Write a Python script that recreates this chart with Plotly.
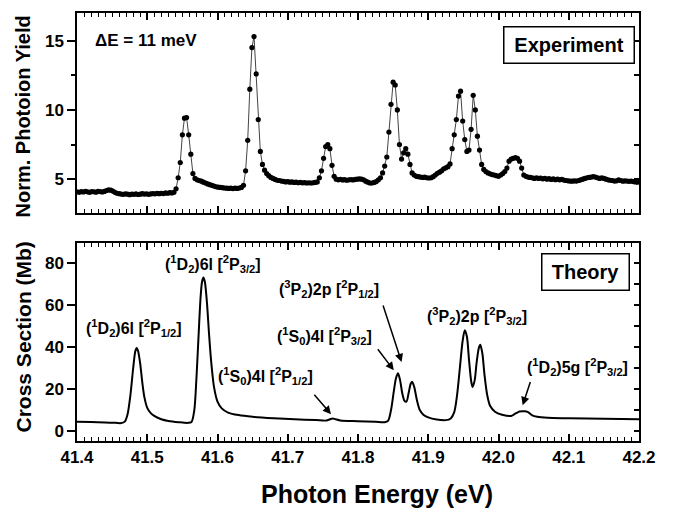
import plotly.graph_objects as go

# ---------------- data ----------------
exp_energy = [
    41.400, 41.403, 41.406, 41.409, 41.412, 41.415, 41.418, 41.421, 41.424, 41.427,
    41.430, 41.433, 41.436, 41.439, 41.442, 41.445, 41.448, 41.451, 41.454, 41.457,
    41.460, 41.463, 41.466, 41.469, 41.472, 41.475, 41.478, 41.481, 41.484, 41.487,
    41.490, 41.493, 41.496, 41.499, 41.502, 41.505, 41.508, 41.511, 41.514, 41.517,
    41.520, 41.523, 41.526, 41.529, 41.532, 41.535, 41.538, 41.541, 41.544, 41.547,
    41.550, 41.553, 41.556, 41.559, 41.562, 41.565, 41.568, 41.571, 41.574, 41.577,
    41.580, 41.583, 41.586, 41.589, 41.592, 41.595, 41.598, 41.601, 41.604, 41.607,
    41.610, 41.613, 41.616, 41.619, 41.622, 41.625, 41.628, 41.631, 41.634, 41.637,
    41.640, 41.643, 41.646, 41.649, 41.652, 41.655, 41.658, 41.661, 41.664, 41.667,
    41.670, 41.673, 41.676, 41.679, 41.682, 41.685, 41.688, 41.691, 41.694, 41.697,
    41.700, 41.703, 41.706, 41.709, 41.712, 41.715, 41.718, 41.721, 41.724, 41.727,
    41.730, 41.733, 41.736, 41.739, 41.742, 41.745, 41.748, 41.751, 41.754, 41.757,
    41.760, 41.763, 41.766, 41.769, 41.772, 41.775, 41.778, 41.781, 41.784, 41.787,
    41.790, 41.793, 41.796, 41.799, 41.802, 41.805, 41.808, 41.811, 41.814, 41.817,
    41.820, 41.823, 41.826, 41.829, 41.832, 41.835, 41.838, 41.841, 41.844, 41.847,
    41.850, 41.853, 41.856, 41.859, 41.862, 41.865, 41.868, 41.871, 41.874, 41.877,
    41.880, 41.883, 41.886, 41.889, 41.892, 41.895, 41.898, 41.901, 41.904, 41.907,
    41.910, 41.913, 41.916, 41.919, 41.922, 41.925, 41.928, 41.931, 41.934, 41.937,
    41.940, 41.943, 41.946, 41.949, 41.952, 41.955, 41.958, 41.961, 41.964, 41.967,
    41.970, 41.973, 41.976, 41.979, 41.982, 41.985, 41.988, 41.991, 41.994, 41.997,
    42.000, 42.003, 42.006, 42.009, 42.012, 42.015, 42.018, 42.021, 42.024, 42.027,
    42.030, 42.033, 42.036, 42.039, 42.042, 42.045, 42.048, 42.051, 42.054, 42.057,
    42.060, 42.063, 42.066, 42.069, 42.072, 42.075, 42.078, 42.081, 42.084, 42.087,
    42.090, 42.093, 42.096, 42.099, 42.102, 42.105, 42.108, 42.111, 42.114, 42.117,
    42.120, 42.123, 42.126, 42.129, 42.132, 42.135, 42.138, 42.141, 42.144, 42.147,
    42.150, 42.153, 42.156, 42.159, 42.162, 42.165, 42.168, 42.171, 42.174, 42.177,
    42.180, 42.183, 42.186, 42.189, 42.192, 42.195, 42.198,
]
exp_yield = [
    4.08, 4.05, 4.10, 4.07, 4.12, 4.08, 4.05, 4.10, 4.09, 4.06,
    4.12, 4.10, 4.07, 4.11, 4.18, 4.22, 4.20, 4.14, 4.05, 3.98,
    3.95, 3.92, 3.90, 3.94, 3.91, 3.88, 3.92, 3.90, 3.93, 3.89,
    3.91, 3.95, 3.92, 3.94, 3.90, 3.93, 3.96, 3.94, 3.97, 3.95,
    3.98, 3.96, 4.00, 3.98, 4.02, 4.00, 4.05, 4.30, 5.10, 6.20,
    8.20, 9.40, 9.45, 8.20, 6.80, 5.40, 5.05, 4.95, 4.90, 4.85,
    4.78, 4.72, 4.65, 4.60, 4.55, 4.50, 4.45, 4.42, 4.40, 4.38,
    4.36, 4.35, 4.33, 4.35, 4.32, 4.35, 4.33, 4.36, 4.40, 4.55,
    5.60, 7.80, 11.50, 14.50, 15.30, 12.60, 9.30, 7.00, 6.06, 5.65,
    5.40, 5.25, 5.12, 5.05, 4.98, 4.92, 4.90, 4.86, 4.84, 4.80,
    4.82, 4.78, 4.80, 4.76, 4.78, 4.74, 4.76, 4.73, 4.75, 4.72,
    4.74, 4.72, 4.74, 4.76, 4.80, 5.10, 5.60, 6.50, 7.35, 7.50,
    7.20, 6.00, 5.20, 5.00, 4.95, 4.98, 4.94, 4.96, 4.92, 4.95,
    4.97, 4.94, 4.98, 5.00, 5.02, 5.00, 4.95, 4.85, 4.78, 4.72,
    4.72, 4.76, 4.82, 4.95, 5.10, 5.45, 5.94, 6.60, 8.40, 10.40,
    12.00, 11.80, 10.00, 7.50, 6.45, 6.90, 7.20, 6.80, 6.06, 5.45,
    5.30, 5.20, 5.18, 5.15, 5.12, 5.14, 5.10, 5.08, 5.10, 5.18,
    5.30, 5.42, 5.50, 5.60, 5.75, 5.82, 5.90, 6.10, 7.20, 8.20,
    9.30, 11.00, 11.35, 9.20, 7.86, 7.00, 7.10, 8.60, 11.05, 10.00,
    8.10, 7.10, 6.06, 5.70, 5.55, 5.45, 5.38, 5.33, 5.30, 5.25,
    5.20, 5.30, 5.40, 5.55, 5.80, 6.30, 6.45, 6.50, 6.55, 6.50,
    6.30, 5.80, 5.30, 5.20, 5.15, 5.12, 5.10, 5.05, 5.10, 5.05,
    5.08, 5.02, 5.06, 5.00, 5.04, 4.98, 5.02, 4.96, 5.00, 4.95,
    4.98, 4.93, 4.90, 4.88, 4.86, 4.85, 4.88, 4.86, 4.90, 4.95,
    5.00, 5.05, 5.10, 5.12, 5.15, 5.18, 5.15, 5.10, 5.05, 5.10,
    5.05, 5.00, 4.95, 4.92, 4.90, 4.86, 4.88, 4.95, 4.90, 4.85,
    4.88, 4.86, 4.84, 4.86, 4.82, 4.80, 4.78,
]

theory_energy = [
    41.400, 41.420, 41.440, 41.455, 41.463, 41.468, 41.472, 41.476, 41.480, 41.483,
    41.485, 41.487, 41.490, 41.493, 41.496, 41.500, 41.505, 41.510, 41.520, 41.530,
    41.545, 41.558, 41.563, 41.567, 41.570, 41.573, 41.576, 41.578, 41.580, 41.582,
    41.585, 41.588, 41.591, 41.595, 41.600, 41.606, 41.615, 41.630, 41.650, 41.680,
    41.710, 41.740, 41.755, 41.760, 41.764, 41.768, 41.775, 41.800, 41.825, 41.838,
    41.843, 41.847, 41.851, 41.854, 41.857, 41.860, 41.863, 41.866, 41.869, 41.872,
    41.875, 41.877, 41.880, 41.884, 41.888, 41.893, 41.900, 41.912, 41.925, 41.932,
    41.937, 41.941, 41.945, 41.949, 41.952, 41.955, 41.958, 41.961, 41.963, 41.966,
    41.969, 41.972, 41.974, 41.977, 41.980, 41.984, 41.988, 41.995, 42.005, 42.018,
    42.025, 42.030, 42.037, 42.042, 42.048, 42.055, 42.070, 42.100, 42.150, 42.200,
]
theory_cs = [
    4.4, 4.3, 4.1, 3.9, 3.8, 4.5, 8, 17, 30, 38,
    39.5, 38, 32, 23, 16, 11, 8.5, 7.2, 5.6, 4.8,
    4.2, 3.9, 4.3, 10, 25, 45, 64, 71, 73, 71,
    61, 46, 33, 21, 14, 10.8, 8.8, 7.6, 6.8, 6.1,
    5.6, 5.2, 5.0, 5.6, 6.0, 5.6, 5.0, 4.7, 4.4, 4.2,
    5.0, 10, 19, 25, 27.5, 24, 18, 14.5, 14, 18,
    22.5, 23.5, 21, 14.5, 10, 7.8, 6.5, 5.5, 5.2, 6.0,
    9, 17, 30, 43, 48, 45, 34, 24, 21, 24,
    33, 39.5, 41, 37, 27, 17, 12, 9.2, 7.8, 7.2,
    8.5, 9.3, 9.4, 9.0, 7.5, 6.8, 6.3, 6.1, 5.8, 5.6,
]

x_tick0 = 41.4
x_major_step = 0.1
x_minor_step = 0.01
top_tickvals = [5, 10, 15]
top_minor = [7.5, 12.5]
top_right_ticks = [5, 7.5, 10, 12.5, 15]
bot_tickvals = [0, 20, 40, 60, 80]
bot_right_ticks = [0, 10, 20, 30, 40, 50, 60, 70, 80]

# peak labels: (text, energy, cross section)
labels = [
    ("(<sup>1</sup>D<sub>2</sub>)6l [<sup>2</sup>P<sub>1/2</sub>]", 41.481, 48.8),
    ("(<sup>1</sup>D<sub>2</sub>)6l [<sup>2</sup>P<sub>3/2</sub>]", 41.5936, 79.5),
    ("(<sup>3</sup>P<sub>2</sub>)2p [<sup>2</sup>P<sub>1/2</sub>]", 41.758, 67.7),
    ("(<sup>1</sup>S<sub>0</sub>)4l [<sup>2</sup>P<sub>3/2</sub>]", 41.7516, 45.4),
    ("(<sup>1</sup>S<sub>0</sub>)4l [<sup>2</sup>P<sub>1/2</sub>]", 41.669, 26.0),
    ("(<sup>3</sup>P<sub>2</sub>)2p [<sup>2</sup>P<sub>3/2</sub>]", 41.9687, 54.9),
    ("(<sup>1</sup>D<sub>2</sub>)5g [<sup>2</sup>P<sub>3/2</sub>]", 42.1125, 30.3),
]
# arrows: (head energy, head value, tail energy, tail value)
arrows = [
    (41.7616, 8.0, 41.736, 18.0),
    (41.851, 28.9, 41.8266, 39.6),
    (41.862, 32.8, 41.835, 60.4),
    (42.0344, 12.3, 42.046, 24.1),
]

FONT = "Liberation Sans, Arial, Helvetica, sans-serif"
BLACK = "#000000"

fig = go.Figure()
fig.add_trace(go.Scatter(
    x=theory_energy, y=theory_cs, xaxis="x", yaxis="y", mode="lines",
    line=dict(color=BLACK, width=2, shape="spline", smoothing=0.8),
    showlegend=False, hoverinfo="skip"))
fig.add_trace(go.Scatter(
    x=exp_energy, y=exp_yield, xaxis="x2", yaxis="y2", mode="lines+markers",
    line=dict(color="#444444", width=1),
    marker=dict(color=BLACK, size=5.2),
    showlegend=False, hoverinfo="skip"))
fig.add_trace(go.Scatter(x=[None], y=[None], xaxis="x", yaxis="y3",
                         showlegend=False, hoverinfo="skip"))
fig.add_trace(go.Scatter(x=[None], y=[None], xaxis="x2", yaxis="y4",
                         showlegend=False, hoverinfo="skip"))

tickfont = dict(family=FONT, size=17, color=BLACK, weight="bold")
xcommon = dict(
    range=[41.4, 42.2], tickmode="linear", tick0=x_tick0, dtick=x_major_step,
    tickformat=".1f",
    ticks="inside", ticklen=7, tickwidth=1.5, tickcolor=BLACK,
    showline=True, linewidth=1.5, linecolor=BLACK, mirror="ticks",
    showgrid=False, zeroline=False,
    minor=dict(tickmode="linear", tick0=x_tick0, dtick=x_minor_step, ticks="inside",
               ticklen=4, tickwidth=1, tickcolor=BLACK, showgrid=False),
)
ycommon = dict(showline=True, linewidth=1.5, linecolor=BLACK, showgrid=False,
               zeroline=False, tickcolor=BLACK, tickwidth=1.5, tickfont=tickfont)

TOP_DOM = [0.5326, 1.0]
BOT_DOM = [0.0, 0.4628]
TOP_RANGE = [2.55, 17.0]
BOT_RANGE = [-4.73, 89.5]

fig.update_layout(
    width=674, height=510,
    margin=dict(l=77, r=35, t=11, b=69),
    paper_bgcolor="white", plot_bgcolor="white",
    font=dict(family=FONT, color=BLACK),
    xaxis=dict(anchor="y", domain=[0, 1], tickfont=tickfont, **xcommon),
    xaxis2=dict(anchor="y2", domain=[0, 1], matches="x", showticklabels=False,
                **xcommon),
    yaxis=dict(anchor="x", domain=BOT_DOM, range=BOT_RANGE, tickmode="array",
               tickvals=bot_tickvals, ticks="outside", ticklen=8, **ycommon),
    yaxis2=dict(anchor="x2", domain=TOP_DOM, range=TOP_RANGE, tickmode="array",
                tickvals=top_tickvals, ticks="outside", ticklen=8,
                minor=dict(tickmode="array", tickvals=top_minor, ticks="outside",
                           ticklen=4, tickwidth=1.5, tickcolor=BLACK),
                **ycommon),
    yaxis3=dict(anchor="x", overlaying="y", side="right", range=BOT_RANGE,
                tickmode="array", tickvals=bot_right_ticks, ticks="inside",
                ticklen=5, showticklabels=False, **ycommon),
    yaxis4=dict(anchor="x2", overlaying="y2", side="right", range=TOP_RANGE,
                tickmode="array", tickvals=top_right_ticks, ticks="inside",
                ticklen=5, showticklabels=False, **ycommon),
)

ann = []
# axis titles
ann.append(dict(text="Norm. Photoion Yield", xref="paper", yref="paper",
                x=(23 - 77) / 562, y=(441 - 115) / 430, textangle=-90,
                showarrow=False,
                font=dict(family=FONT, size=20, color=BLACK, weight="bold"),
                xanchor="center", yanchor="middle"))
ann.append(dict(text="Cross Section (Mb)", xref="paper", yref="paper",
                x=(23 - 77) / 562, y=(441 - 337) / 430, textangle=-90,
                showarrow=False,
                font=dict(family=FONT, size=21, color=BLACK, weight="bold"),
                xanchor="center", yanchor="middle"))
ann.append(dict(text="Photon Energy (eV)", xref="paper", yref="paper",
                x=(377 - 77) / 562, y=(441 - 494) / 430,
                showarrow=False,
                font=dict(family=FONT, size=25, color=BLACK, weight="bold"),
                xanchor="center", yanchor="middle"))
# panel notes
ann.append(dict(text="\u0394E = 11 meV", xref="paper", yref="paper",
                x=(93 - 77) / 562, y=(441 - 39) / 430, showarrow=False,
                font=dict(family=FONT, size=17, color=BLACK, weight="bold"),
                xanchor="left", yanchor="middle"))
ann.append(dict(text="Experiment", xref="paper", yref="paper",
                x=(568.5 - 77) / 562, y=(441 - 43) / 430, showarrow=False,
                font=dict(family=FONT, size=20, color=BLACK, weight="bold"),
                bordercolor=BLACK, borderwidth=1.5, borderpad=2,
                width=125, height=31, xanchor="center", yanchor="middle"))
ann.append(dict(text="Theory", xref="paper", yref="paper",
                x=(585 - 77) / 562, y=(441 - 271) / 430, showarrow=False,
                font=dict(family=FONT, size=20, color=BLACK, weight="bold"),
                bordercolor=BLACK, borderwidth=1.5, borderpad=2,
                width=82, height=31, xanchor="center", yanchor="middle"))
for text, ex, ey in labels:
    ann.append(dict(text=text, xref="x", yref="y", x=ex, y=ey, showarrow=False,
                    font=dict(family=FONT, size=16, color=BLACK, weight="bold"),
                    xanchor="center", yanchor="middle"))
for hx, hy, tx, ty in arrows:
    ann.append(dict(text="", xref="x", yref="y", x=hx, y=hy,
                    axref="x", ayref="y", ax=tx, ay=ty, showarrow=True,
                    arrowhead=2, arrowsize=1.1, arrowwidth=1.5, arrowcolor=BLACK))
fig.update_layout(annotations=ann)

fig.write_html("out.html")
